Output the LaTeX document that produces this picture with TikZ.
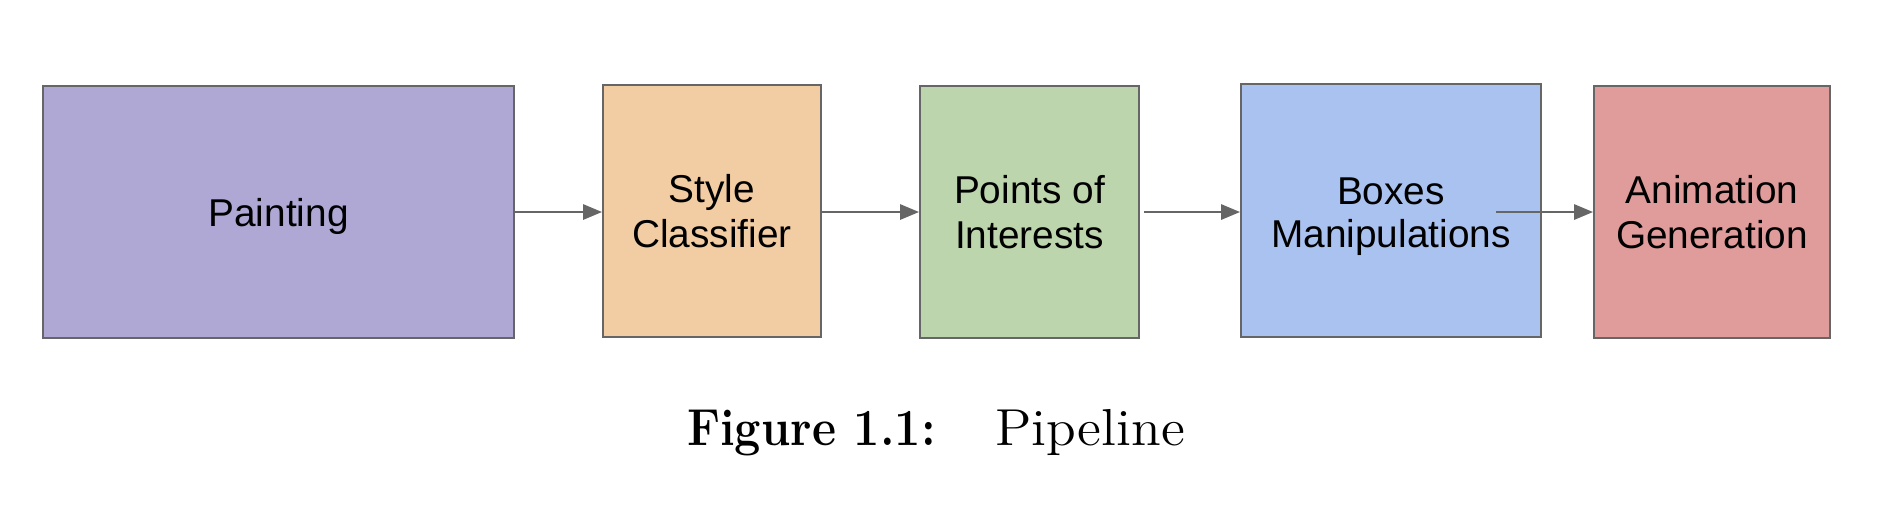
\documentclass[tikz,border=0pt]{standalone}
\usepackage{fontspec}
\newfontfamily\boxfont{Liberation Sans}
\usetikzlibrary{arrows.meta}
\definecolor{cpaint}{HTML}{B0A8D4}
\definecolor{cstyle}{HTML}{F2CCA2}
\definecolor{cpoi}{HTML}{BDD5AD}
\definecolor{cboxes}{HTML}{A9C2EF}
\definecolor{canim}{HTML}{E09C9B}
\definecolor{edge}{HTML}{666666}
\begin{document}
\begin{tikzpicture}[x=0.25pt,y=-0.25pt,
  stage/.style={draw=edge, line width=0.5pt, inner sep=0pt, align=center,
    font=\boxfont\fontsize{9.7}{11.2}\selectfont, text=black},
  arr/.style={draw=edge, line width=0.5pt, -{Triangle[length=4.7pt,width=3.8pt]}}]
\useasboundingbox (0,0) rectangle (1880,506);
\node[stage, fill=cpaint, minimum width=117.75pt, minimum height=63pt] (paint) at (278.5,212) {\raisebox{-1.2pt}[\height][\depth]{Painting}};
\node[stage, fill=cstyle, minimum width=54.5pt, minimum height=63pt] (style) at (712,211) {Style\\Classifier};
\node[stage, fill=cpoi, minimum width=54.75pt, minimum height=63pt] (poi) at (1029.5,212) {Points of\\Interests};
\node[stage, fill=cboxes, minimum width=75pt, minimum height=63.25pt] (boxes) at (1391,210.5) {\raisebox{-1.6pt}[\height][\depth]{\begin{tabular}{@{}c@{}}Boxes\\[-0.3pt]Manipulations\end{tabular}}};
\node[stage, fill=canim, minimum width=59pt, minimum height=63pt] (anim) at (1712,212) {Animation\\Generation};
\coordinate (bm) at (1496,212);
\draw[arr] (paint.east |- 0,212) -- (style.west |- 0,212);
\draw[arr] (style.east |- 0,212) -- (poi.west |- 0,212);
\draw[arr, shorten <=1pt] (poi.east |- 0,212) -- (boxes.west |- 0,212);
\draw[arr] (bm) -- (anim.west |- 0,212);
\node[anchor=base, font=\fontsize{13}{15}\selectfont] (cap) at (936,445) {\scalebox{0.9}[1]{\textbf{Figure 1.1:}}\hspace{1.15em}\scalebox{1.05}[1]{Pipeline}};
\end{tikzpicture}
\end{document}
